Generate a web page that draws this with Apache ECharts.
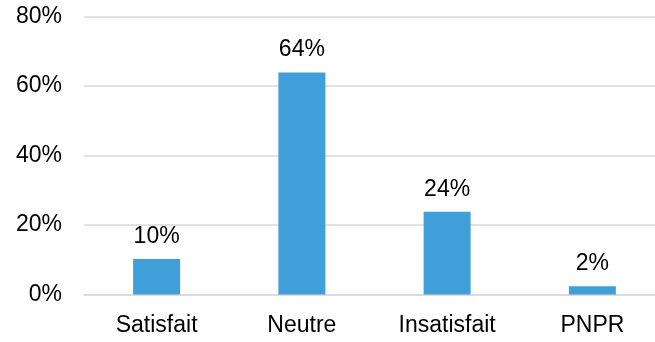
<!DOCTYPE html>
<html>
<head>
<meta charset="utf-8">
<script src="https://cdn.jsdelivr.net/npm/echarts@6/dist/echarts.min.js"></script>
<style>
html, body { margin: 0; padding: 0; background: #fff; }
#chart { width: 655px; height: 342px; }
</style>
</head>
<body>
<div id="chart"></div>
<script>
// categories and values
const categories = ['Satisfait', 'Neutre', 'Insatisfait', 'PNPR'];
const values = [10.2, 63.9, 23.8, 2.4];
const yTicks = [0, 20, 40, 60, 80];

let chart = echarts.init(document.getElementById('chart'));
chart.setOption({
    backgroundColor: '#ffffff',
    animation: false,
    textStyle: { fontFamily: 'Liberation Sans, Arial, sans-serif' },
    grid: { left: 84, width: 581, top: 16.5, bottom: 47.5, containLabel: false, outerBoundsMode: 'none' },
    xAxis: {
        type: 'category',
        data: categories,
        axisTick: { show: false },
        axisLine: { lineStyle: { color: '#d9d9d9', width: 1.5 } },
        axisLabel: { color: '#000', fontSize: 23, margin: 20 }
    },
    yAxis: {
        type: 'value',
        min: yTicks[0],
        max: yTicks[yTicks.length - 1],
        interval: 20,
        axisLine: { show: false },
        axisTick: { show: false },
        splitLine: { lineStyle: { color: '#d9d9d9', width: 1.5 } },
        axisLabel: { color: '#000', fontSize: 23, margin: 22, formatter: v => v + '%' }
    },
    series: [{
        type: 'bar',
        data: values,
        barWidth: 47,
        itemStyle: { color: '#3fa0d9' },
        label: {
            show: true,
            position: 'top',
            distance: 11,
            color: '#000',
            fontSize: 23,
            formatter: p => Math.round(p.value) + '%'
        }
    }]
});
</script>
</body>
</html>
